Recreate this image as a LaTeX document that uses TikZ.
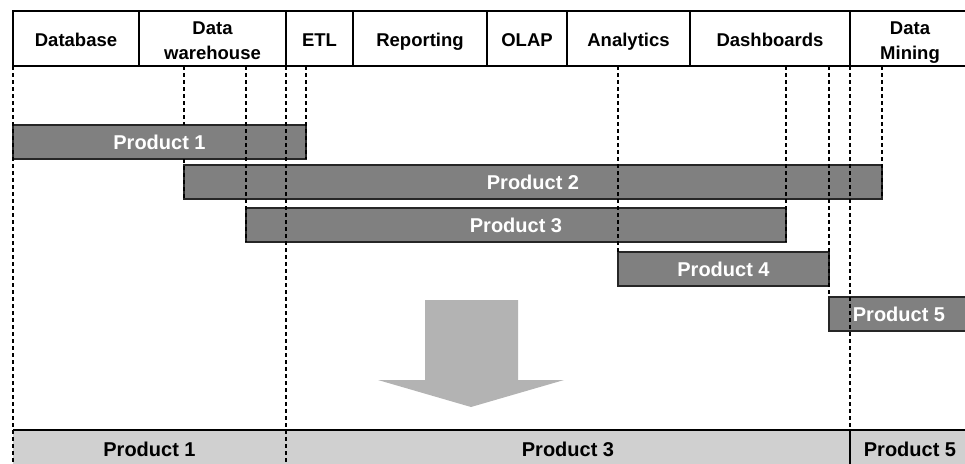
\documentclass[tikz,border=0pt]{standalone}
\usepackage{fontspec}
\setmainfont{Liberation Sans}
\usetikzlibrary{positioning}
\definecolor{bargray}{HTML}{808080}
\definecolor{basegray}{HTML}{D0D0D0}
\definecolor{arrowgray}{HTML}{B3B3B3}

\begin{document}
\begin{tikzpicture}[x=1pt, y=-1pt, line width=1.2pt, font=\fontsize{20}{22}\selectfont\bfseries]
  \tikzstyle{cell}=[draw, minimum height=55pt, inner sep=0pt, outer sep=0pt, align=center,
    font=\fontsize{18.5}{25}\selectfont\bfseries]
  \tikzstyle{one}=[text height=16.4pt, text depth=0pt]
  \tikzstyle{two}=[text height=42pt, text depth=0pt]
  \tikzstyle{bar}=[draw=black!85, fill=bargray, text=white, minimum height=34pt, inner sep=0pt, outer sep=0pt, anchor=north west]
  \tikzstyle{base}=[fill=basegray, minimum height=38pt, inner sep=0pt, outer sep=0pt, anchor=north west]
  \tikzstyle{guide}=[dash pattern=on 4pt off 3pt]

  \useasboundingbox (0,0) rectangle (965,463);

  % header row
  \node[cell, one, minimum width=126pt, anchor=north west] (db) at (13,11) {Database};
  \node[cell, two, minimum width=147pt, right=0pt of db]   (dw)   {Data\\warehouse};
  \node[cell, one, minimum width=67pt,  right=0pt of dw]   (etl)  {ETL};
  \node[cell, one, minimum width=134pt, right=0pt of etl]  (rep)  {Reporting};
  \node[cell, one, minimum width=80pt,  right=0pt of rep]  (olap) {OLAP};
  \node[cell, one, minimum width=123pt, right=0pt of olap] (ana)  {Analytics};
  \node[cell, one, minimum width=160pt, right=0pt of ana]  (dash) {Dashboards};
  \node[cell, two, minimum width=120pt, right=0pt of dash] (dm)   {Data\\Mining};

  % products
  \node[bar, minimum width=293pt] (p1) at (13,125)  {Product 1};
  \node[bar, minimum width=698pt] (p2) at (184,165) {Product 2};
  \node[bar, minimum width=540pt] (p3) at (246,208) {Product 3};
  \node[bar, minimum width=211pt] (p4) at (618,252) {Product 4};
  \node[bar, minimum width=140pt] (p5) at (829,297) {Product 5};

  % result row
  \node[base, minimum width=273pt] (b1) at (13,430)  {Product 1};
  \node[base, minimum width=564pt] (b3) at (286,430) {Product 3};
  \node[base, minimum width=120pt] (b5) at (850,430) {Product 5};
  \draw (b1.north west) -- (b5.north east);
  \draw (b5.north west) -- (b5.south west);

  % guides
  \draw[guide] (db.south west) -- (b1.south west);
  \draw[guide] (p2.south west |- db.south) -- (p2.south west |- p1.north);
  \draw[guide] (p2.south west |- p1.south) -- (p2.south west);
  \draw[guide] (p3.south west |- db.south) -- (p3.south west);
  \draw[guide] (dw.south east) -- (b1.south east);
  \draw[guide] (p1.south east |- db.south) -- (p1.south east);
  \draw[guide] (p4.north west |- db.south) -- (p4.north west);
  \draw[guide] (p3.south east |- db.south) -- (p3.south east);
  \draw[guide] (p5.north west |- db.south) -- (p5.north west);
  \draw[guide] (dash.south east) -- (b5.north west);
  \draw[guide] (p2.south east |- db.south) -- (p2.south east);

  % big arrow
  \fill[arrowgray] (425,300) -- (518,300) -- (518,380) -- (564,380) -- (471,407)
    -- (378,380) -- (425,380) -- cycle;
\end{tikzpicture}
\end{document}
